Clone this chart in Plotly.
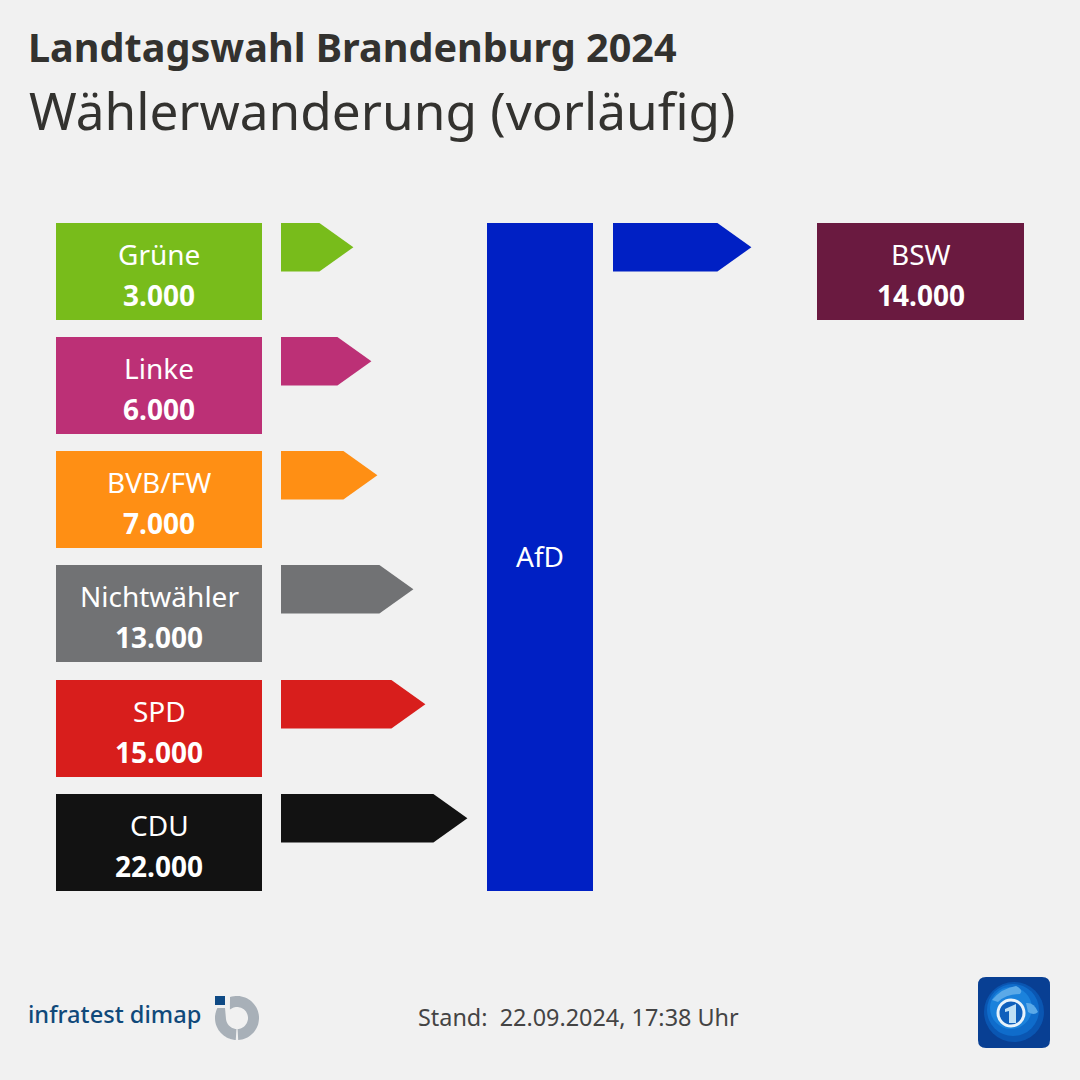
import numpy as np
import plotly.graph_objects as go

FONT = "Noto Sans"
TITLE = "Landtagswahl Brandenburg 2024"
SUBTITLE = "Wählerwanderung (vorläufig)"
STAND = "Stand:  22.09.2024, 17:38 Uhr"
parties = ["Grüne", "Linke", "BVB/FW", "Nichtwähler", "SPD", "CDU"]
values = [3000, 6000, 7000, 13000, 15000, 22000]
colors = ["#78BC1B", "#BC3076", "#FF8F14", "#717274", "#D81E1C", "#121212"]
row_tops = [223, 337, 451, 565, 680, 794]
target = "AfD"
target_color = "#0020C4"
out_party = "BSW"
out_value = 14000
out_color = "#6A1A40"

BOX_X, BOX_W, BOX_H = 56, 206, 97
ARROW_X, ARROW_H, HEAD = 281, 48.5, 34
OUT_X, OUT_BOX_X = 613, 817


def fmt(v):
    return f"{v:,}".replace(",", ".")


def arrow_len(v):
    return 54.4 + v * 0.006


def arrow_trace(x0, top, v, color):
    L = arrow_len(v)
    xs = [x0, x0 + L - HEAD, x0 + L, x0 + L - HEAD, x0, x0]
    ys = [top, top, top + ARROW_H / 2, top + ARROW_H, top + ARROW_H, top]
    return go.Scatter(x=xs, y=ys, mode="lines", fill="toself", fillcolor=color,
                      line=dict(width=0, color=color), hoverinfo="skip", showlegend=False)


def box_trace(x0, w, top, h, color):
    return go.Bar(x=[w], base=[x0], y=[top + h / 2], width=[h], orientation="h",
                  marker=dict(color=color, line=dict(width=0)), hoverinfo="skip", showlegend=False)


fig = go.Figure()
ann = []


def text(x, y, s, size, color="#FFFFFF", bold=False, anchor="center", family=FONT, weight=None):
    font = dict(family=family, size=size, color=color)
    if weight:
        font["weight"] = weight
    ann.append(dict(x=x, y=y, xref="x", yref="y", text=f"<b>{s}</b>" if bold else s,
                    showarrow=False, xanchor=anchor, yanchor="middle", font=font))


for p, v, c, t in zip(parties, values, colors, row_tops):
    fig.add_trace(box_trace(BOX_X, BOX_W, t, BOX_H, c))
    fig.add_trace(arrow_trace(ARROW_X, t, v, c))
    text(BOX_X + BOX_W / 2, t + 31, p, 28)
    text(BOX_X + BOX_W / 2, t + 72, fmt(v), 28, bold=True)

fig.add_trace(box_trace(487, 106, 223, 668, target_color))
text(540, 556, target, 28)
fig.add_trace(arrow_trace(OUT_X, 223, out_value, target_color))
fig.add_trace(box_trace(OUT_BOX_X, 207, 223, BOX_H, out_color))
text(920.5, 254, out_party, 28)
text(920.5, 295, fmt(out_value), 28, bold=True)

text(25.5, 47, TITLE, 39.6, color="#33322F", bold=True, anchor="left")
text(26.5, 110, SUBTITLE, 51.3, color="#33322F", anchor="left")
text(578.5, 1017, STAND, 23.4, color="#444444")
text(25.5, 1014, "infratest dimap", 23.6, color="#10497A", anchor="left", weight=500)


def ring(cx, cy, r0, r1, out_a0, out_a1, in_a0, in_a1, extra=()):
    to = np.radians(np.linspace(out_a0, out_a1, 40))
    ti = np.radians(np.linspace(in_a1, in_a0, 40))
    pts = [(cx + r1 * np.cos(a), cy + r1 * np.sin(a)) for a in to]
    pts += list(extra)
    pts += [(cx + r0 * np.cos(a), cy + r0 * np.sin(a)) for a in ti]
    return "M" + " L".join(f"{x:.1f},{y:.1f}" for x, y in pts) + " Z"


GREY = "#A8B0B8"
shapes = [
    dict(type="path", path=ring(237, 1018, 11, 22, -108.5, 87, -130, 87), fillcolor=GREY, line_width=0),
    dict(type="path", path=ring(237, 1018, 11, 22, 93, 207, 93, 175, extra=[(225, 1008)]),
         fillcolor=GREY, line_width=0),
    dict(type="rect", x0=215, x1=225, y0=996, y1=1005, fillcolor="#0F4A85", line_width=0),
]
# tagesschau app icon
r = 8
x0, x1, y0, y1 = 978, 1050, 977, 1048
shapes.append(dict(type="path", fillcolor="#083F93", line_width=0,
                   path=f"M{x0+r},{y0} L{x1-r},{y0} Q{x1},{y0} {x1},{y0+r} L{x1},{y1-r} Q{x1},{y1} {x1-r},{y1} "
                        f"L{x0+r},{y1} Q{x0},{y1} {x0},{y1-r} L{x0},{y0+r} Q{x0},{y0} {x0+r},{y0} Z"))
for rad, col, cx, cy in [(30, "#0A56B2", 1014, 1012), (26, "#0F6CCB", 1013, 1010), (21, "#1B82DC", 1011, 1008)]:
    shapes.append(dict(type="circle", x0=cx - rad, x1=cx + rad, y0=cy - rad, y1=cy + rad,
                       fillcolor=col, line_width=0))
for path in ["M992,1000 Q1002,988 1016,986 Q1024,990 1020,994 Q1006,994 998,1002 Z",
             "M1026,1003 Q1034,1002 1038,1012 Q1034,1016 1028,1012 Z"]:
    shapes.append(dict(type="path", path=path, fillcolor="#5BA9E8", line_width=0))
shapes.append(dict(type="circle", x0=998, x1=1024, y0=1000, y1=1026, fillcolor="#0E5FBC",
                   line=dict(color="#E8F3FB", width=3)))
shapes.append(dict(type="path", path="M1005,1009 L1016,1004 L1016,1023 L1009,1023 L1009,1011 L1005,1012 Z",
                   fillcolor="#BFE0F5", line_width=0))

fig.update_layout(
    width=1080, height=1080, autosize=False,
    margin=dict(l=0, r=0, t=0, b=0),
    paper_bgcolor="#F1F1F1", plot_bgcolor="#F1F1F1",
    barmode="overlay", showlegend=False,
    xaxis=dict(range=[0, 1080], visible=False, fixedrange=True),
    yaxis=dict(range=[1080, 0], visible=False, fixedrange=True),
    annotations=ann, shapes=shapes,
)
fig.write_html("out.html", config=dict(displayModeBar=False),
               post_script="document.body.style.margin='0';document.body.style.background='#F1F1F1';")
